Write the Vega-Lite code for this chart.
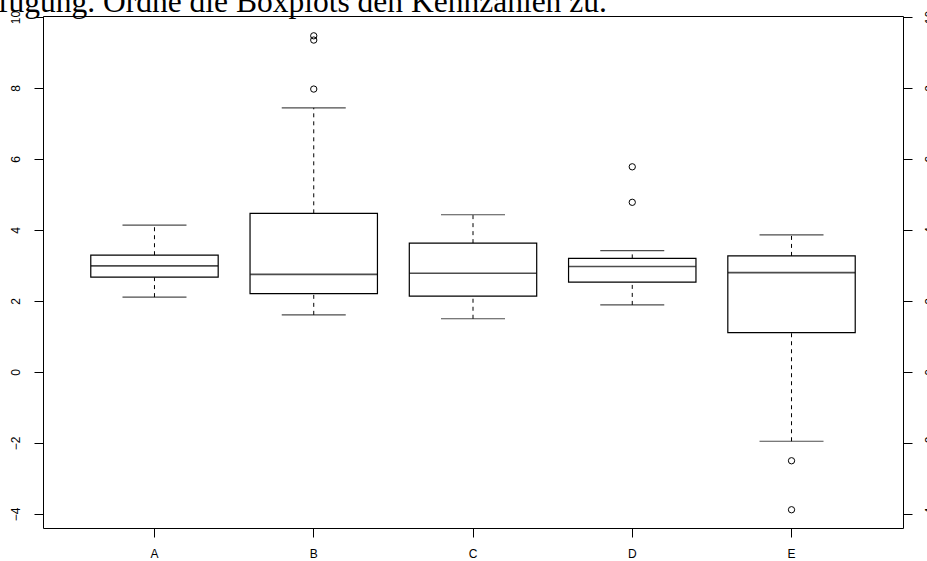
{
  "$schema": "https://vega.github.io/schema/vega-lite/v6.json",
  "width": 860,
  "height": 512,
  "autosize": {"type": "none"},
  "padding": {"left": 43, "top": 16, "right": 24, "bottom": 33},
  "background": "white",
  "title": {
    "text": "fügung. Ordne die Boxplots den Kennzahlen zu.",
    "font": "Liberation Serif",
    "fontSize": 31.5,
    "fontWeight": "normal",
    "color": "black",
    "anchor": "start",
    "frame": "group",
    "baseline": "alphabetic",
    "dx": -45,
    "offset": -33
  },
  "config": {
    "view": {"stroke": "black", "strokeWidth": 1},
    "axis": {
      "labelFont": "Liberation Sans",
      "labelFontSize": 12,
      "labelColor": "black",
      "tickColor": "black",
      "grid": false,
      "domain": false,
      "title": null
    }
  },
  "datasets": {
    "stats": [
      {"group": "A", "lo": 2.11, "q1": 2.67, "med": 2.99, "q3": 3.29, "hi": 4.14},
      {"group": "B", "lo": 1.61, "q1": 2.21, "med": 2.75, "q3": 4.47, "hi": 7.44},
      {"group": "C", "lo": 1.50, "q1": 2.14, "med": 2.78, "q3": 3.63, "hi": 4.43},
      {"group": "D", "lo": 1.89, "q1": 2.53, "med": 2.97, "q3": 3.20, "hi": 3.42},
      {"group": "E", "lo": -1.95, "q1": 1.11, "med": 2.80, "q3": 3.27, "hi": 3.86}
    ],
    "outliers": [
      {"group": "B", "value": 7.97},
      {"group": "B", "value": 9.35},
      {"group": "B", "value": 9.47},
      {"group": "D", "value": 4.78},
      {"group": "D", "value": 5.78},
      {"group": "E", "value": -2.50},
      {"group": "E", "value": -3.88}
    ]
  },
  "encoding": {
    "x": {
      "field": "group",
      "type": "nominal",
      "scale": {"domain": ["A", "B", "C", "D", "E"], "paddingInner": 0.2, "paddingOuter": 0.3},
      "axis": {"orient": "bottom", "labelAngle": 0, "tickSize": 9, "labelPadding": 11, "title": null}
    }
  },
  "resolve": {"axis": {"y": "independent"}},
  "layer": [
    {
      "data": {"name": "stats"},
      "layer": [
        {
          "mark": {"type": "rule", "stroke": "black", "strokeWidth": 1, "strokeDash": [4, 4]},
          "encoding": {
            "y": {"field": "q3", "type": "quantitative",
              "scale": {"domain": [-4.394, 10.028], "nice": false, "zero": false},
              "axis": {"orient": "left", "values": [-4, -2, 0, 2, 4, 6, 8, 10], "labelAngle": -90, "tickSize": 9, "labelPadding": 12, "title": null}},
            "y2": {"field": "hi"}
          }
        },
        {
          "mark": {"type": "rule", "stroke": "black", "strokeWidth": 1, "strokeDash": [4, 4]},
          "encoding": {
            "y": {"field": "lo", "type": "quantitative",
              "axis": {"orient": "right", "values": [-4, -2, 0, 2, 4, 6, 8, 10], "labelAngle": -90, "tickSize": 9, "labelPadding": 12, "title": null}},
            "y2": {"field": "q1"}
          }
        },
        {
          "mark": {"type": "tick", "orient": "horizontal", "size": 64, "thickness": 1.2, "color": "black"},
          "encoding": {"y": {"field": "hi", "type": "quantitative", "axis": null}}
        },
        {
          "mark": {"type": "tick", "orient": "horizontal", "size": 64, "thickness": 1.2, "color": "black"},
          "encoding": {"y": {"field": "lo", "type": "quantitative", "axis": null}}
        },
        {
          "mark": {"type": "bar", "fill": "white", "stroke": "black", "strokeWidth": 1.2},
          "encoding": {
            "y": {"field": "q1", "type": "quantitative", "axis": null},
            "y2": {"field": "q3"}
          }
        },
        {
          "mark": {"type": "tick", "orient": "horizontal", "size": 127, "thickness": 1.6, "color": "black"},
          "encoding": {"y": {"field": "med", "type": "quantitative", "axis": null}}
        }
      ]
    },
    {
      "data": {"name": "outliers"},
      "mark": {"type": "point", "shape": "circle", "filled": false, "stroke": "black", "strokeWidth": 1, "size": 40, "opacity": 1},
      "encoding": {"y": {"field": "value", "type": "quantitative", "axis": null}}
    }
  ]
}
